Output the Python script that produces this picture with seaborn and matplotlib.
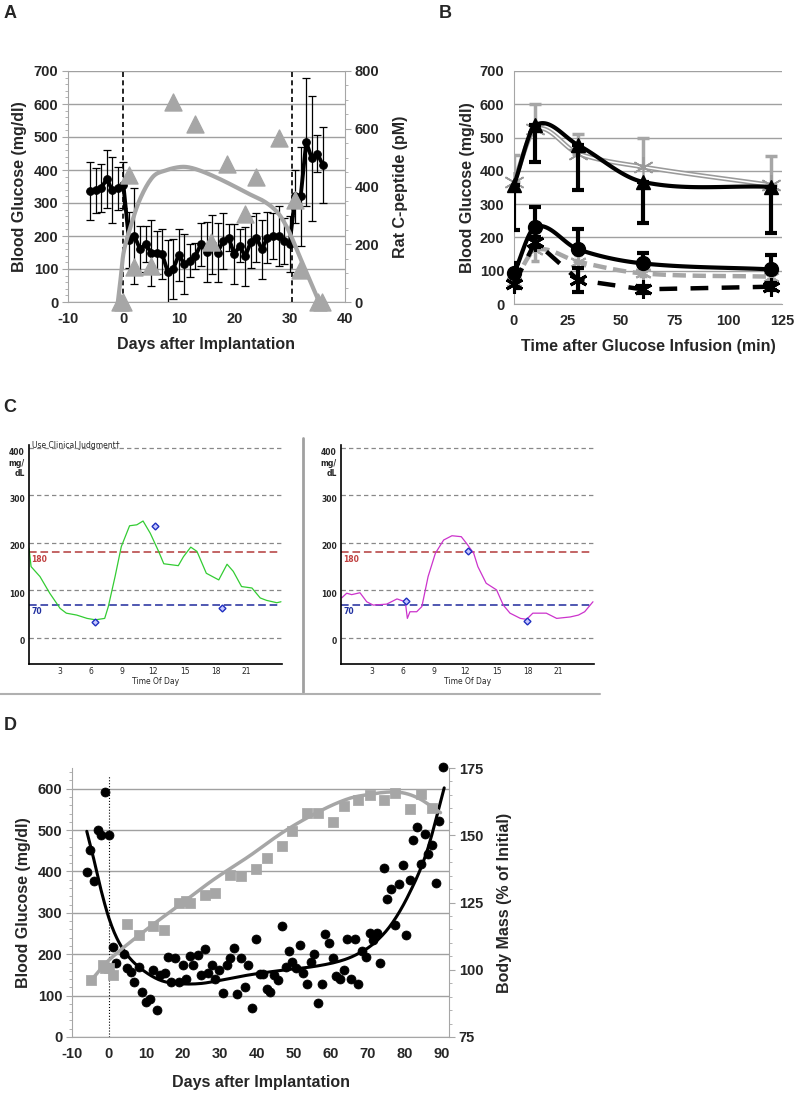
import numpy as np
import matplotlib
matplotlib.use("Agg")
import matplotlib.pyplot as plt
from matplotlib.lines import Line2D
from matplotlib.ticker import MultipleLocator
import seaborn as sns

## ---------------- data ----------------
# A: daily blood glucose (mean, sd) and rat C-peptide
a_days = list(range(-6, 37))
a_glucose = [335, 338, 345, 373, 338, 345, 355, 188, 200, 160, 175, 150, 150, 145, 92, 100,
             143, 115, 125, 140, 175, 152, 175, 150, 185, 195, 145, 170, 138, 182, 195, 160,
             195, 200, 200, 185, 175, 320, 320, 485, 435, 450, 415]
a_sd = [88, 68, 72, 87, 100, 65, 70, 85, 145, 70, 55, 100, 65, 75, 95, 90,
        78, 90, 50, 40, 65, 90, 90, 90, 85, 40, 90, 50, 90, 80, 75, 90,
        78, 70, 90, 70, 85, 80, 150, 195, 190, 55, 115]
cpep_days = [-0.7, 0, 1, 2, 5, 9, 13, 15.9, 18.7, 22, 24, 28, 30.9, 31.9, 35.1, 35.8]
cpep_vals = [0, 0, 439, 121, 124, 693, 615, 208, 479, 306, 433, 569, 352, 110, 0, 0]
cpep_fit_days = [-1, -0.6, 0, 1.1, 2.9, 5.3, 7.7, 10, 11.6, 13.7, 16.6, 19.6, 22.6, 25.6, 28, 29.8, 31.6, 33.4, 35.2]
cpep_fit_vals = [0, 63, 167, 248, 352, 433, 456, 467, 467, 456, 433, 405, 375, 346, 306, 248, 167, 87, 6]
a_events = [0, 30.4]

# B: glucose tolerance tests
b_time = [0, 10, 30, 60, 120]
b_tri = [357, 537, 477, 367, 352]
b_tri_err = [135, 110, 135, 125, 140]
b_star = [367, 525, 452, 412, 357]
b_star_err = [80, 75, 60, 88, 88]
b_circ = [92, 232, 164, 122, 104]
b_circ_err = [30, 60, 60, 30, 43]
b_gdash = [65, 162, 127, 92, 82]
b_gdash_err = [15, 32, 20, 8, 8]
b_kdash = [60, 187, 72, 44, 52]
b_kdash_err = [12, 15, 35, 10, 10]

# C: continuous glucose monitor traces (hour of day, mg/dL)
c1_hours = [0, 0.2, 1.06, 2.0, 3.0, 3.6, 4.6, 5.6, 6.4, 7.3, 7.65, 8.3, 8.9, 9.7, 10.4, 11.0, 11.7,
            12.5, 13.0, 14.4, 14.9, 15.6, 16.2, 17.1, 18.3, 19.1, 19.7, 20.5, 21.5, 22.3, 22.9, 23.9, 24.3]
c1_vals = [189, 150, 129, 94, 62, 52, 48, 41, 38, 41, 66, 129, 192, 236, 238, 246, 220,
           182, 156, 152, 171, 191, 182, 136, 122, 155, 140, 108, 105, 84, 79, 74, 76]
c1_meter_h = [6.4, 12.15, 18.6]
c1_meter_v = [33, 236, 62]
c2_hours = [0.06, 0.55, 1.03, 1.83, 2.48, 3.1, 4.4, 5.4, 6.2, 6.4, 6.65, 7.3, 7.8, 8.4, 9.1, 9.9,
            10.7, 11.6, 12.1, 12.8, 13.2, 14.0, 15.0, 15.65, 16.3, 17.3, 17.9, 18.5, 19.8, 20.8,
            22.1, 22.9, 23.5, 24.3]
c2_vals = [84, 94, 91, 95, 76, 69, 71, 82, 76, 41, 55, 55, 66, 129, 178, 206,
           215, 213, 199, 178, 150, 115, 101, 69, 52, 41, 39, 52, 52, 41,
           44, 48, 55, 76]
c2_meter_h = [6.3, 12.2, 17.9]
c2_meter_v = [77, 183, 36]

# D: long-term glucose and body mass
d_days = [-6.0, -5.0, -4.0, -3.1, -2.1, -1.1, 0.0, 1.0, 1.9, 4.0,
          5.0, 6.0, 6.9, 8.0, 8.9, 9.9, 11.0, 12.0, 13.0, 13.9,
          15.1, 16.0, 16.8, 17.9, 18.9, 20.0, 20.9, 21.9, 22.8, 24.0,
          25.0, 25.9, 26.9, 27.9, 28.8, 29.8, 30.9, 31.9, 32.8, 33.8,
          34.7, 35.8, 36.8, 37.7, 38.8, 39.7, 40.8, 41.7, 42.7, 43.7,
          44.6, 45.7, 46.7, 47.8, 48.7, 49.6, 50.7, 51.6, 52.6, 53.6,
          54.6, 55.6, 56.6, 57.6, 58.5, 59.5, 60.6, 61.5, 62.6, 63.5,
          64.5, 65.5, 66.5, 67.5, 68.4, 69.6, 70.5, 71.5, 72.5, 73.4,
          74.4, 75.3, 76.4, 77.4, 78.4, 79.5, 80.4, 81.4, 82.3, 83.3,
          84.5, 85.4, 86.4, 87.3, 88.4, 89.3, 90.3]
d_glucose = [398, 453, 376, 500, 489, 592, 487, 217, 179, 200,
             166, 156, 133, 168, 109, 85, 91, 162, 65, 150,
             154, 194, 133, 190, 133, 174, 141, 196, 174, 198,
             150, 212, 154, 174, 140, 162, 107, 174, 190, 214,
             103, 190, 120, 174, 71, 237, 152, 152, 117, 109,
             150, 137, 268, 168, 209, 182, 166, 222, 154, 129,
             182, 200, 82, 129, 249, 226, 190, 147, 141, 163,
             237, 141, 237, 128, 209, 194, 252, 234, 252, 178,
             408, 333, 357, 270, 370, 416, 247, 380, 475, 507,
             419, 491, 441, 463, 373, 521, 652]
d_fit_days = [-6, -4.3, -2.4, 0, 2.4, 5.3, 9.1, 13.9, 18.7, 24.5, 30.2, 37.9, 47.5, 55.2, 61.9,
              66.7, 71.5, 76.3, 81.1, 85.9, 90.7]
d_fit_glucose = [497, 437, 364, 287, 234, 194, 162, 137, 129, 129, 137, 150, 162, 170, 182,
                 198, 225, 271, 344, 445, 602]
mass_days = [-4.8, -1.7, -1.2, 0.0, 1.0, 5.0, 8.0, 12.0, 14.9, 19.0, 20.9, 21.9, 25.9, 28.8, 32.8,
             35.8, 39.7, 42.7, 46.7, 49.6, 53.7, 56.6, 60.6, 63.5, 67.5, 70.5, 74.4, 77.4, 81.4,
             84.5, 87.3]
mass_pct = [96.1, 101.8, 100.5, 100.5, 98.0, 117.0, 113.0, 116.3, 114.8, 124.7, 125.6, 124.7, 127.9,
            128.5, 135.3, 135.0, 137.5, 141.5, 145.9, 151.5, 158.1, 158.1, 154.8, 160.8, 163.0, 164.8,
            163.0, 165.8, 159.8, 165.2, 160.2]
mass_fit_days = [-4.8, 0, 10, 19.7, 28.3, 37.9, 47.5, 57.1, 64.8, 70.5, 76.3, 80.1, 84.0, 87.8, 89.7]
mass_fit_pct = [96.1, 103.6, 114.8, 124.7, 133.5, 142.2, 151.5, 159.0, 163.6, 165.2, 166.1, 165.6,
                163.6, 160.2, 158.4]


def smooth(x, y, n=30):
    # cubic hermite through the points (centred secant tangents), like a "smoothed line"
    x = np.asarray(x, float)
    y = np.asarray(y, float)
    m = np.empty_like(y)
    m[1:-1] = (y[2:] - y[:-2]) / (x[2:] - x[:-2])
    m[0] = (y[1] - y[0]) / (x[1] - x[0])
    m[-1] = (y[-1] - y[-2]) / (x[-1] - x[-2])
    xs, ys = [], []
    t = np.linspace(0, 1, n, endpoint=False)
    for i in range(len(x) - 1):
        h = x[i + 1] - x[i]
        xs.append(x[i] + t * h)
        ys.append((2*t**3 - 3*t**2 + 1) * y[i] + (t**3 - 2*t**2 + t) * h * m[i]
                  + (-2*t**3 + 3*t**2) * y[i + 1] + (t**3 - t**2) * h * m[i + 1])
    xs.append([x[-1]])
    ys.append([y[-1]])
    return np.concatenate(xs), np.concatenate(ys)


sns.set_style("white")
plt.rcParams['font.family'] = ['Liberation Sans', 'DejaVu Sans']
plt.rcParams['font.weight'] = 'bold'
plt.rcParams['axes.labelweight'] = 'bold'
plt.rcParams['axes.unicode_minus'] = False

W, H = 796, 1096
fig = plt.figure(figsize=(W / 100, H / 100), dpi=100)
GRAY = '#a6a6a6'
GRID = '#a0a0a0'


def box(l, t, r, b):
    return [l / W, 1 - b / H, (r - l) / W, (b - t) / H]


def excel_axes(ax):
    ax.spines['top'].set_visible(False)
    for s in ['left', 'bottom', 'right']:
        ax.spines[s].set_color(GRAY)
    ax.tick_params(which='both', direction='out', color=GRAY, labelsize=10.5, pad=3)
    ax.tick_params(which='major', length=4)
    ax.tick_params(which='minor', length=2.5)


## ---------------- A ----------------
axA = fig.add_axes(box(68, 71, 345, 302))
axA.set_xlim(-10, 40)
axA.set_ylim(0, 700)
axA.set_yticks(range(0, 701, 100))
axA.set_xticks(range(-10, 41, 10))
axA.xaxis.set_minor_locator(MultipleLocator(2))
axA.yaxis.set_minor_locator(MultipleLocator(20))
axA.yaxis.grid(True, color=GRID, lw=1)
axA.set_axisbelow(True)
excel_axes(axA)
axA.spines['right'].set_visible(False)
for d in a_events:
    axA.axvline(d, color='black', ls='--', lw=1.2, dashes=(3, 2))
axA.errorbar(a_days, a_glucose, yerr=a_sd, fmt='none', ecolor='black', elinewidth=0.9,
             capsize=3, capthick=0.9)
sns.lineplot(x=a_days, y=a_glucose, ax=axA, color='black', lw=2.8, marker='o', ms=5.5,
             mec='black', mfc='black')
axA.set_xlabel('Days after Implantation', fontsize=11.5, labelpad=8)
axA.set_ylabel('Blood Glucose (mg/dl)', fontsize=11.5, labelpad=5)

axA2 = axA.twinx()
axA2.set_ylim(0, 800)
axA2.set_yticks(range(0, 801, 200))
axA2.yaxis.set_minor_locator(MultipleLocator(50))
excel_axes(axA2)
axA2.spines['left'].set_visible(False)
axA2.spines['bottom'].set_visible(False)
fx, fy = smooth(cpep_fit_days, cpep_fit_vals, 10)
axA2.plot(fx, fy, color=GRAY, lw=3, solid_capstyle='round')
sns.scatterplot(x=cpep_days, y=cpep_vals, ax=axA2, marker='^', s=150, color=GRAY,
                edgecolor=GRAY, clip_on=False, zorder=5)
axA2.set_ylabel('Rat C-peptide (pM)', fontsize=11.5, labelpad=10)

## ---------------- B ----------------
axB = fig.add_axes(box(514, 71, 782, 304))
axB.set_xlim(0, 125)
axB.set_ylim(0, 700)
axB.set_xticks(range(0, 126, 25))
axB.set_yticks(range(0, 701, 100))
axB.xaxis.set_minor_locator(MultipleLocator(5))
axB.yaxis.set_minor_locator(MultipleLocator(20))
axB.yaxis.grid(True, color=GRID, lw=1)
axB.set_axisbelow(True)
excel_axes(axB)
axB.spines['right'].set_visible(False)
star = (6, 2, 0)

# gray double line with stars
axB.errorbar(b_time, b_star, yerr=[[0] * 5, b_star_err], fmt='none', ecolor=GRAY, elinewidth=2.5,
             capsize=4, capthick=2.5, zorder=2)
sx, sy = smooth(b_time, b_star)
axB.plot(sx, sy, color='#9a9a9a', lw=3.4, zorder=3)
axB.plot(sx, sy, color='white', lw=1.1, zorder=3)
axB.plot(b_time, b_star, ls='none', marker=star, ms=15, mec='#9a9a9a', mew=1.2, zorder=4,
         clip_on=False)

# black triangles
axB.errorbar(b_time, b_tri, yerr=[b_tri_err, [0] * 5], fmt='none', ecolor='black', elinewidth=3,
             capsize=4, capthick=3, zorder=5)
tx, ty = smooth(b_time, b_tri)
axB.plot(tx, ty, color='black', lw=3, zorder=5)
axB.plot(b_time, b_tri, ls='none', marker='^', ms=10, color='black', zorder=6, clip_on=False)

# gray dashed
axB.errorbar(b_time, b_gdash, yerr=b_gdash_err, fmt='none', ecolor=GRAY, elinewidth=2.5,
             capsize=3, capthick=2.5, zorder=3)
gx, gy = smooth(b_time, b_gdash)
axB.plot(gx, gy, color=GRAY, lw=3.2, dashes=(3, 1.5), zorder=3)
axB.plot(b_time, b_gdash, ls='none', marker=star, ms=12, mec=GRAY, mew=1.5, zorder=4, clip_on=False)

# black dashed
axB.errorbar(b_time, b_kdash, yerr=b_kdash_err, fmt='none', ecolor='black', elinewidth=3,
             capsize=4, capthick=3, zorder=5)
axB.plot(b_time, b_kdash, color='black', lw=3.2, dashes=(4, 3), zorder=5)
axB.plot(b_time, b_kdash, ls='none', marker=star, ms=13, mec='black', mew=2.2, zorder=6,
         clip_on=False)

# black circles
axB.errorbar(b_time, b_circ, yerr=[[0] * 5, b_circ_err], fmt='none', ecolor='black', elinewidth=3,
             capsize=4, capthick=3, zorder=5)
cx, cy = smooth(b_time, b_circ)
axB.plot(cx, cy, color='black', lw=3, zorder=5)
axB.plot(b_time, b_circ, ls='none', marker='o', ms=10, color='black', zorder=6, clip_on=False)

axB.set_xlabel('Time after Glucose Infusion (min)', fontsize=11.5, labelpad=8)
axB.set_ylabel('Blood Glucose (mg/dl)', fontsize=11.5, labelpad=3)

## ---------------- C ----------------
def cgm_panel(ax, hours, vals, mh, mv, color, first):
    ax.set_xlim(0, 24.4)
    ax.set_ylim(-55, 406)
    for s in ['top', 'right']:
        ax.spines[s].set_visible(False)
    for s in ['left', 'bottom']:
        ax.spines[s].set_color('black')
        ax.spines[s].set_linewidth(1.2)
    for lv in [0, 100, 200, 300, 400]:
        ax.axhline(lv, color='#888888', ls='--', lw=0.9, dashes=(3.5, 2.5), xmax=24.3 / 24.4)
    ax.axhline(180, color='#b33a3a', ls='--', lw=1.1, dashes=(5, 2.5), xmax=24.3 / 24.4)
    ax.axhline(70, color='#1f2a9c', ls='--', lw=1.1, dashes=(5, 2.5), xmax=24.3 / 24.4)
    ax.text(0.25, 165, '180', color='#c04040', fontsize=5.5, va='center', family='DejaVu Sans')
    ax.text(0.25, 55, '70', color='#2030a0', fontsize=5.5, va='center', family='DejaVu Sans')
    ax.plot(hours, vals, color=color, lw=0.9)
    ax.plot(mh, mv, ls='none', marker='D', ms=3.5, mfc='#c8c8ff', mec='#2030c0', mew=1)
    ax.set_yticks([])
    for lv in [0, 100, 200, 300]:
        ax.text(-0.4, lv - 8, str(lv), ha='right', va='center', fontsize=5.5,
                family='DejaVu Sans', weight='bold')
    ax.text(-0.4, 400, '400\nmg/\ndL', ha='right', va='top', fontsize=5.5, linespacing=1.25,
            family='DejaVu Sans', weight='bold')
    ax.set_xticks(range(3, 22, 3))
    ax.set_xticklabels([str(v) for v in range(3, 22, 3)], fontsize=5.5, family='DejaVu Sans',
                       weight='normal')
    ax.xaxis.set_minor_locator(MultipleLocator(1))
    ax.tick_params(axis='x', which='major', direction='in', length=3, pad=2, color='black')
    ax.tick_params(axis='x', which='minor', direction='in', length=1.5, color='black')
    ax.set_xlabel('Time Of Day', fontsize=5.5, family='DejaVu Sans', weight='normal', labelpad=1)
    if first:
        ax.text(0.3, 406, 'Use Clinical Judgment\u2020', fontsize=5.5, va='center',
                family='DejaVu Sans', weight='normal')


axC1 = fig.add_axes(box(29, 445, 282, 664))
cgm_panel(axC1, c1_hours, c1_vals, c1_meter_h, c1_meter_v, '#33cc33', True)
axC2 = fig.add_axes(box(341, 445, 594, 664))
cgm_panel(axC2, c2_hours, c2_vals, c2_meter_h, c2_meter_v, '#cc33cc', False)
fig.add_artist(Line2D([303 / W, 303 / W], [1 - 438 / H, 1 - 692 / H], color='#a0a0a0', lw=2))
fig.add_artist(Line2D([0, 600 / W], [1 - 694 / H, 1 - 694 / H], color='#b0b0b0', lw=1.5))

## ---------------- D ----------------
axD = fig.add_axes(box(72, 768, 449, 1037))
axD.set_xlim(-10, 92)
axD.set_ylim(0, 650)
axD.set_xticks(range(-10, 91, 10))
axD.set_yticks(range(0, 601, 100))
axD.xaxis.set_minor_locator(MultipleLocator(2))
axD.yaxis.set_minor_locator(MultipleLocator(20))
axD.yaxis.grid(True, color=GRID, lw=1)
axD.set_axisbelow(True)
excel_axes(axD)
axD.spines['right'].set_visible(False)
axD.plot([0, 0], [0, 630], color='black', ls=':', lw=0.8)
bx, by = smooth(d_fit_days, d_fit_glucose, 10)
axD.plot(bx, by, color='black', lw=2.2)
sns.scatterplot(x=d_days, y=d_glucose, ax=axD, color='black', s=42, edgecolor='black',
                clip_on=False, zorder=4)
axD.set_xlabel('Days after Implantation', fontsize=11.5, labelpad=10)
axD.set_ylabel('Blood Glucose (mg/dl)', fontsize=11.5, labelpad=5)

axD2 = axD.twinx()
axD2.set_ylim(75, 75 + 650 / 6.5)
axD2.set_yticks([75, 100, 125, 150, 175])
axD2.yaxis.set_minor_locator(MultipleLocator(5))
excel_axes(axD2)
axD2.spines['left'].set_visible(False)
axD2.spines['bottom'].set_visible(False)
mx, my = smooth(mass_fit_days, mass_fit_pct, 10)
axD2.plot(mx, my, color=GRAY, lw=2.5)
sns.scatterplot(x=mass_days, y=mass_pct, ax=axD2, marker='s', s=45, color=GRAY, edgecolor=GRAY,
                zorder=3)
axD2.set_ylabel('Body Mass (% of Initial)', fontsize=11.5, labelpad=10)

for ax in [axA, axA2, axB, axD, axD2]:
    for lab in ax.get_xticklabels() + ax.get_yticklabels():
        lab.set_fontweight('bold')
        lab.set_fontsize(10.5)

for letter, (px, py) in {'A': (10, 13), 'B': (445, 13), 'C': (10, 407), 'D': (10, 725)}.items():
    fig.text(px / W, 1 - py / H, letter, fontsize=13, weight='bold', ha='center', va='center')

fig.savefig('out.png', dpi=100)
